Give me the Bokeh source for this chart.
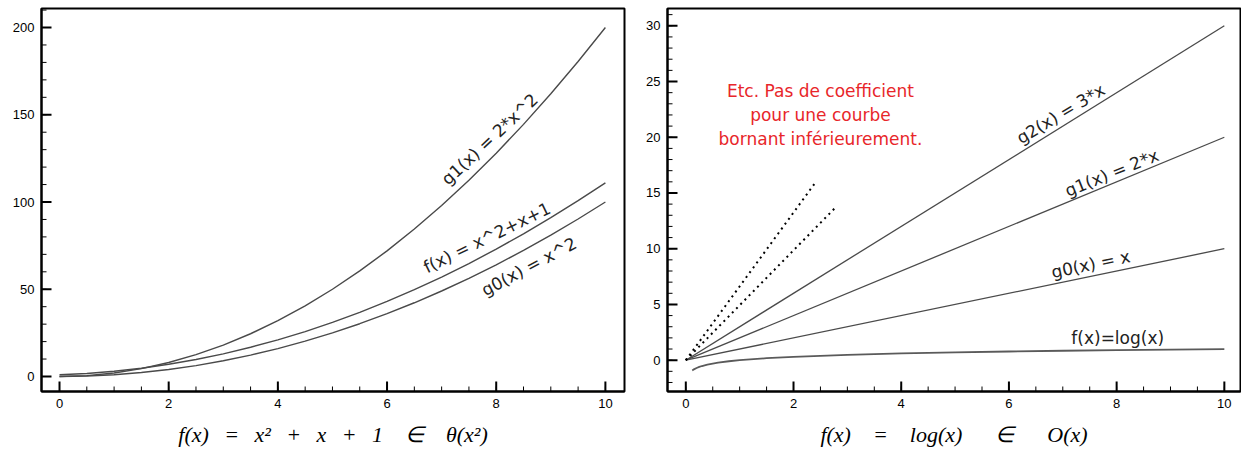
import math
import numpy as np
from bokeh.plotting import figure
from bokeh.models import Range1d, SingleIntervalTicker, Label
from bokeh.layouts import row
from bokeh.embed import file_html
from bokeh.resources import INLINE

# ---------------- data: left panel ----------------
x_left = [0, 0.5, 1, 1.5, 2, 2.5, 3, 3.5, 4, 4.5, 5, 5.5, 6, 6.5, 7, 7.5, 8, 8.5, 9, 9.5, 10]
g1_left = [0, 0.5, 2, 4.5, 8, 12.5, 18, 24.5, 32, 40.5, 50, 60.5, 72, 84.5, 98, 112.5,
           128, 144.5, 162, 180.5, 200]
f_left = [1, 1.75, 3, 4.75, 7, 9.75, 13, 16.75, 21, 25.75, 31, 36.75, 43, 49.75, 57,
          64.75, 73, 81.75, 91, 100.75, 111]
g0_left = [0, 0.25, 1, 2.25, 4, 6.25, 9, 12.25, 16, 20.25, 25, 30.25, 36, 42.25, 49,
           56.25, 64, 72.25, 81, 90.25, 100]
left_names = ["g1(x) = 2*x^2", "f(x) = x^2+x+1", "g0(x) = x^2"]
S = "\u2002\u2009"
E = "\u2003"
left_title = f"f(x){S}={S}x²{S}+{S}x{S}+{S}1{E}∈{E}θ(x²)"

# ---------------- data: right panel ----------------
x_lin = [0, 10]
g2_right = [0, 30]
g1_right = [0, 20]
g0_right = [0, 10]
x_log = [0.12, 0.15, 0.2, 0.25, 0.3, 0.4, 0.5, 0.6, 0.8, 1, 1.5, 2, 3, 4, 5, 6, 7, 8, 9, 10]
f_right = [-0.921, -0.824, -0.699, -0.602, -0.523, -0.398, -0.301, -0.222, -0.097, 0,
           0.176, 0.301, 0.477, 0.602, 0.699, 0.778, 0.845, 0.903, 0.954, 1.0]
dot1_x = [0, 2.41]
dot1_y = [0, 15.96]
dot2_x = [0, 2.76]
dot2_y = [0, 13.6]
right_names = ["g2(x) = 3*x", "g1(x) = 2*x", "g0(x) = x", "f(x)=log(x)"]
note_text = "Etc. Pas de coefficient\npour une courbe\nbornant inférieurement."
S2 = "\u2002\u2002"
E2 = "\u2003\u2002"
right_title = f"f(x){S2}={S2}log(x){E2}∈{E2}O(x)"

TICK_FONT = "Liberation Sans"
LABEL_FONT = "DejaVu Sans"
LINE_COLOR = "#4a4a4a"
H = 450
TOP = 8
BOTTOM = H - 391
FRAME_H = H - TOP - BOTTOM


def style(p, xint, xminor, yint, yminor, frame_w):
    p.outline_line_color = "black"
    p.outline_line_width = 2
    p.xgrid.visible = False
    p.ygrid.visible = False
    p.xaxis.ticker = SingleIntervalTicker(interval=xint, num_minor_ticks=xminor)
    p.yaxis.ticker = SingleIntervalTicker(interval=yint, num_minor_ticks=yminor)
    for ax in (p.xaxis, p.yaxis):
        ax.axis_line_width = 2
        ax.axis_line_color = "black"
        ax.major_tick_in = 0
        ax.major_tick_out = 0
        ax.minor_tick_in = 0
        ax.minor_tick_out = 0
        ax.major_label_text_font = TICK_FONT
        ax.major_label_text_font_size = "13px"
        ax.major_label_text_color = "black"
        ax.major_label_standoff = 7
    p.xaxis.axis_label_text_font = "Liberation Serif"
    p.xaxis.axis_label_text_font_style = "italic"
    p.xaxis.axis_label_text_font_size = "22px"
    p.xaxis.axis_label_text_color = "black"
    p.xaxis.axis_label_standoff = 11
    # inward ticks (major 10 px, minor 5 px) drawn from the frame edges
    x0, x1 = p.x_range.start, p.x_range.end
    y0, y1 = p.y_range.start, p.y_range.end
    ux = (x1 - x0) / frame_w
    uy = (y1 - y0) / FRAME_H
    xstep, ystep = xint / xminor, yint / yminor
    xmaj = list(np.arange(math.ceil(x0 / xint) * xint, x1 + 1e-9, xint))
    xmin = list(np.arange(math.ceil(x0 / xstep) * xstep, x1 + 1e-9, xstep))
    ymaj = list(np.arange(math.ceil(y0 / yint) * yint, y1 + 1e-9, yint))
    ymin = list(np.arange(math.ceil(y0 / ystep) * ystep, y1 + 1e-9, ystep))
    p.segment(x0=xmin, y0=[y0] * len(xmin), x1=xmin, y1=[y0 + 5 * uy] * len(xmin),
              line_color="black", line_width=1)
    p.segment(x0=xmaj, y0=[y0] * len(xmaj), x1=xmaj, y1=[y0 + 10 * uy] * len(xmaj),
              line_color="black", line_width=2)
    p.segment(x0=[x0] * len(ymin), y0=ymin, x1=[x0 + 5 * ux] * len(ymin), y1=ymin,
              line_color="black", line_width=1)
    p.segment(x0=[x0] * len(ymaj), y0=ymaj, x1=[x0 + 10 * ux] * len(ymaj), y1=ymaj,
              line_color="black", line_width=2)


def add_label(p, text, x, y, deg, size="17px", color="#222222", align="center"):
    p.add_layout(Label(x=x, y=y, text=text, angle=math.radians(deg),
                       text_font=LABEL_FONT, text_font_size=size, text_color=color,
                       text_align=align, text_baseline="middle"))


# ---------------- left figure ----------------
W1, BL1, BR1 = 632, 41, 8
p1 = figure(width=W1, height=H, output_backend="svg", toolbar_location=None,
            x_range=Range1d(-0.33, 10.35), y_range=Range1d(-8.6, 210.9),
            min_border_left=BL1, min_border_right=BR1, min_border_top=TOP,
            min_border_bottom=BOTTOM)
p1.xaxis.axis_label = left_title
style(p1, 2, 4, 50, 5, W1 - BL1 - BR1)
for ys in (g1_left, f_left, g0_left):
    p1.line(x_left, ys, line_color=LINE_COLOR, line_width=1.4)
add_label(p1, left_names[0], 7.88, 136, 43)
add_label(p1, left_names[1], 7.83, 79.6, 26)
add_label(p1, left_names[2], 8.6, 63.0, 28)

# ---------------- right figure ----------------
W2, BL2, BR2 = 609, 35, 1
p2 = figure(width=W2, height=H, output_backend="svg", toolbar_location=None,
            x_range=Range1d(-0.34, 10.30), y_range=Range1d(-2.81, 31.55),
            min_border_left=BL2, min_border_right=BR2, min_border_top=TOP,
            min_border_bottom=BOTTOM)
p2.xaxis.axis_label = right_title
style(p2, 2, 4, 5, 5, W2 - BL2 - BR2)
for ys in (g2_right, g1_right, g0_right):
    p2.line(x_lin, ys, line_color=LINE_COLOR, line_width=1.3)
p2.line(x_log, f_right, line_color="#5a5a5a", line_width=1.8)
p2.line(dot1_x, dot1_y, line_color="black", line_width=2, line_dash="2 4")
p2.line(dot2_x, dot2_y, line_color="black", line_width=2, line_dash="2 4")
add_label(p2, right_names[0], 6.96, 22.1, 31)
add_label(p2, right_names[1], 7.91, 16.8, 22)
add_label(p2, right_names[2], 7.52, 8.6, 11.7)
add_label(p2, right_names[3], 8.02, 1.95, 0)
p2.add_layout(Label(x=2.5, y=22.0, text=note_text, text_font=LABEL_FONT,
                    text_font_size="17px", text_color="#e8262a", text_align="center",
                    text_baseline="middle", text_line_height=1.2))

layout = row(p1, p2)
open("out.html", "w").write(file_html(layout, INLINE))
